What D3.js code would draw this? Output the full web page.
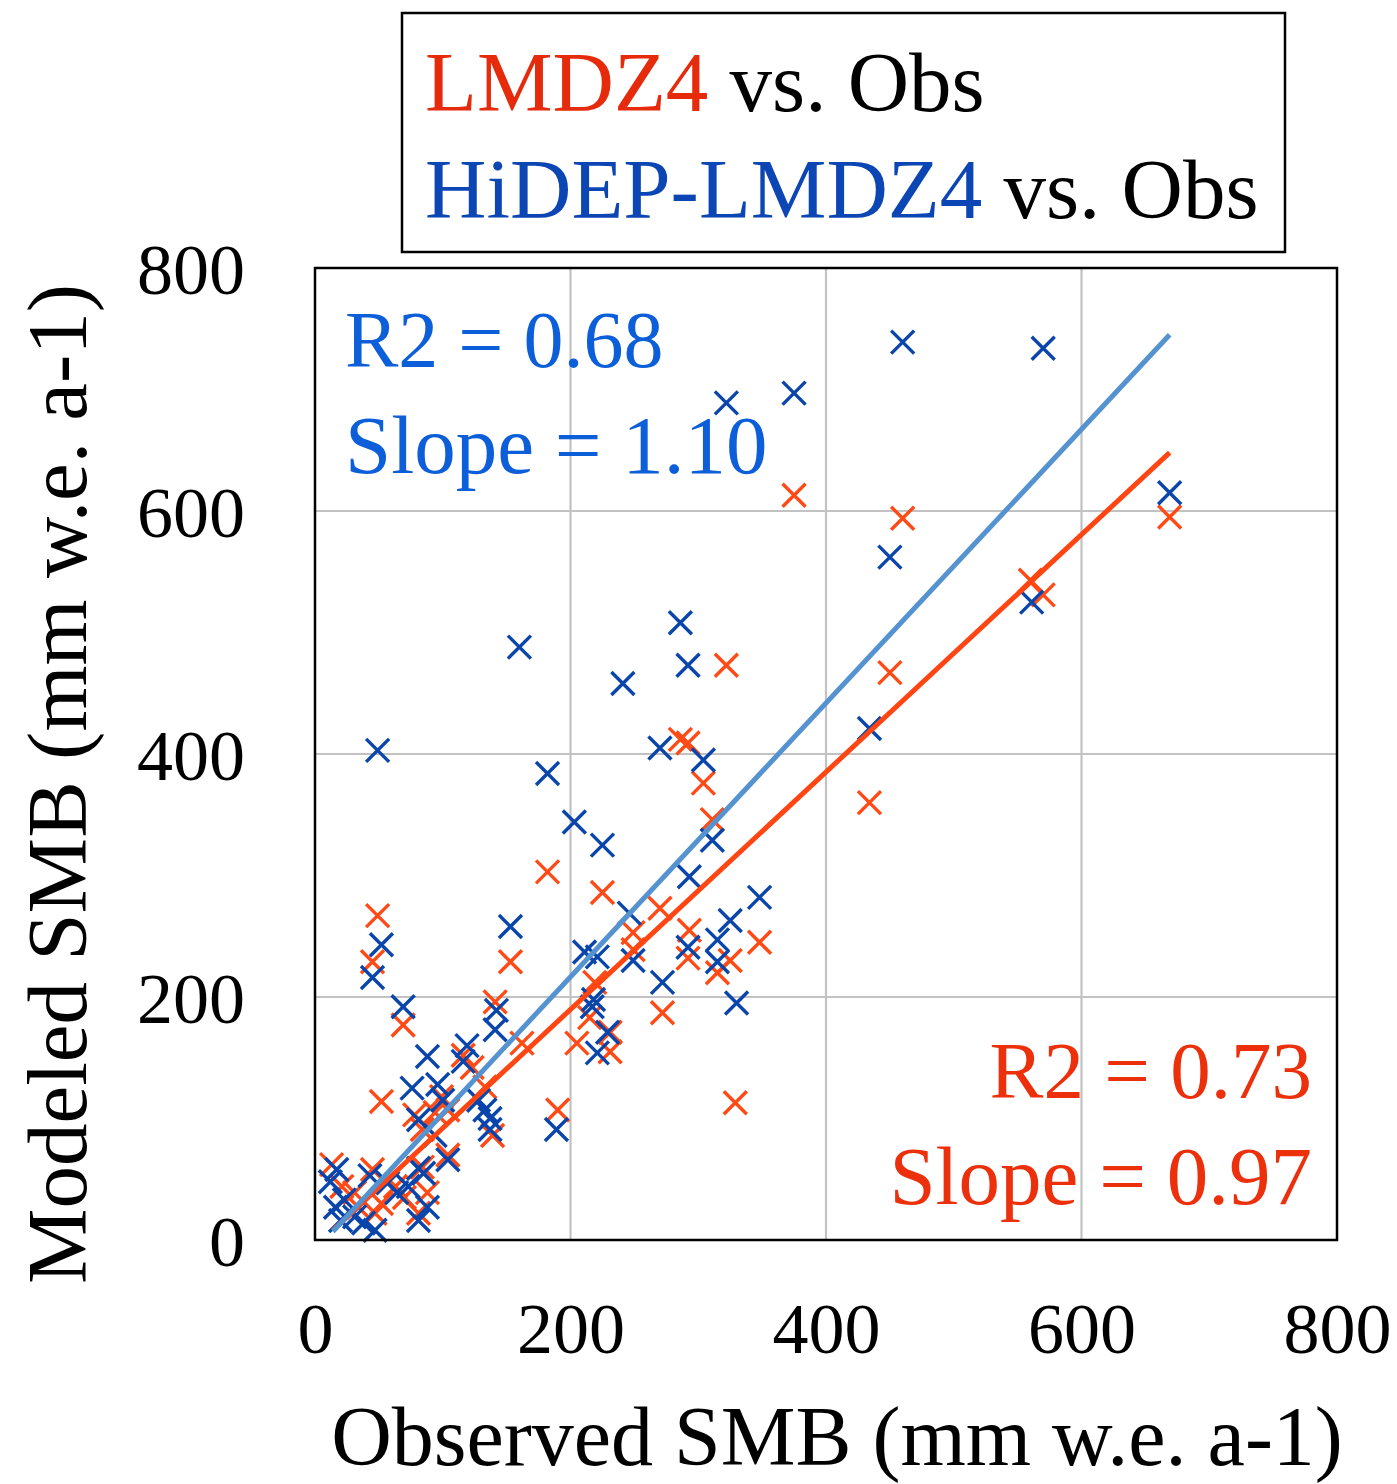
<!DOCTYPE html>
<html>
<head>
<meta charset="utf-8">
<script src="https://cdn.jsdelivr.net/npm/d3@7"></script>
<style>
  html, body { margin: 0; padding: 0; background: #fff; }
  svg { display: block; }
  text { font-family: "Liberation Serif", "DejaVu Serif", serif; }
</style>
</head>
<body>
<svg id="chart" width="1397" height="1484"></svg>
<script>
// ---- data (mm w.e. a-1) ----
const obsLMDZ4 = [375,460,669,322,450,434,560,570,286,292,304,311,225,270,293,348,249,249,292,315,325,219,215,231,205,231,272,329,190,182,153,141,162,49,45,69,52,116,123,99,78,84,94,104,133,139,104,13,21,45,31,34,47,63,84,70,88,81,52];
const modLMDZ4 = [613,594,595,473,467,360,543,531,412,409,376,346,286,273,255,245,253,239,232,220,230,212,183,171,162,155,187,113,107,303,229,196,162,267,229,177,114,152,142,118,103,91,105,107,126,86,70,62,44,58,39,27,22,44,60,35,39,22,30];
const obsHiDEP = [460,570,322,375,669,450,561,434,160,286,292,241,270,304,49,182,203,225,311,293,348,325,246,315,315,330,272,249,221,211,218,217,229,221,153,292,52,45,69,142,141,189,88,119,116,76,96,100,81,94,128,133,137,137,104,17,12,43,23,16,20,47,38,57,64,81,85,73,81,88,31];
const modHiDEP = [739,734,689,697,615,562,525,421,488,508,473,458,405,395,403,384,344,325,329,299,282,263,269,247,229,195,212,230,233,237,198,192,171,154,258,241,243,216,192,189,173,91,151,160,147,125,128,115,99,86,115,107,100,91,66,58,48,53,33,27,16,8,14,47,39,59,55,44,16,27,19];
// regression lines: x range and fitted y at both ends
const fitX = [14, 669];
const fitLMDZ4 = [8, 648];
const fitHiDEP = [7, 745];
const ticks = [0, 200, 400, 600, 800];
const gridTicks = [200, 400, 600];
const statsLMDZ4 = ["R2 = 0.73", "Slope = 0.97"];
const statsHiDEP = ["R2 = 0.68", "Slope = 1.10"];

const svg = d3.select("#chart");
const x = d3.scaleLinear().domain([0, 800]).range([315, 1337]);
const y = d3.scaleLinear().domain([0, 800]).range([1240, 268]);

const cOrange = "#ff4a16", cBlue = "#0a45ab";
const cOrangeLine = "#ff4512", cBlueLine = "#5593d0";

// grid
const grid = svg.append("g");
grid.selectAll(".gx").data(gridTicks).enter().append("line")
  .attr("x1", d => x(d)).attr("x2", d => x(d))
  .attr("y1", y(0)).attr("y2", y(800))
  .attr("stroke", "#c2c2c2").attr("stroke-width", 2.2);
grid.selectAll(".gy").data(gridTicks).enter().append("line")
  .attr("y1", d => y(d)).attr("y2", d => y(d))
  .attr("x1", x(0)).attr("x2", x(800))
  .attr("stroke", "#c2c2c2").attr("stroke-width", 2.2);

// markers
const cross = "M-11.5,-11.5L11.5,11.5M-11.5,11.5L11.5,-11.5";
function scatter(xs, ys, color) {
  svg.append("g").selectAll("path").data(xs.map((v, i) => [v, ys[i]])).enter()
    .append("path")
    .attr("d", cross)
    .attr("transform", d => `translate(${x(d[0])},${y(d[1])})`)
    .attr("fill", "none").attr("stroke", color).attr("stroke-width", 3.4);
}
scatter(obsLMDZ4, modLMDZ4, cOrange);
scatter(obsHiDEP, modHiDEP, cBlue);

// fit lines
const line = d3.line().x(d => x(d[0])).y(d => y(d[1]));
svg.append("path").datum(fitX.map((v, i) => [v, fitLMDZ4[i]]))
  .attr("d", line).attr("stroke", cOrangeLine).attr("stroke-width", 5).attr("fill", "none");
svg.append("path").datum(fitX.map((v, i) => [v, fitHiDEP[i]]))
  .attr("d", line).attr("stroke", cBlueLine).attr("stroke-width", 5).attr("fill", "none");

// frame
svg.append("rect").attr("x", x(0)).attr("y", y(800))
  .attr("width", x(800) - x(0)).attr("height", y(0) - y(800))
  .attr("fill", "none").attr("stroke", "#000").attr("stroke-width", 2.5);

// axes (tick labels only)
const xAxis = d3.axisBottom(x).tickValues(ticks).tickSize(0).tickPadding(0);
const gx = svg.append("g").attr("transform", `translate(0,${y(0)})`).call(xAxis);
gx.select(".domain").remove();
gx.selectAll("text").attr("dy", null).attr("y", 113)
  .attr("font-size", 72).attr("fill", "#000")
  .attr("font-family", '"Liberation Serif", serif');

const yAxis = d3.axisLeft(y).tickValues(ticks).tickSize(0).tickPadding(0);
const gy = svg.append("g").attr("transform", `translate(${x(0) - 70},0)`).call(yAxis);
gy.select(".domain").remove();
gy.selectAll("text").attr("dy", "0.35em").attr("x", 0)
  .attr("font-size", 72).attr("fill", "#000")
  .attr("font-family", '"Liberation Serif", serif');

// axis titles
svg.append("text").attr("x", 837).attr("y", 1465).attr("text-anchor", "middle")
  .attr("font-size", 84).attr("fill", "#000").text("Observed SMB (mm w.e. a-1)");
svg.append("text").attr("transform", "translate(86,784) rotate(-90)").attr("text-anchor", "middle")
  .attr("font-size", 85).attr("fill", "#000").text("Modeled SMB (mm w.e. a-1)");

// stats annotations
const aBlue = "#0d5ed9", aRed = "#ec300c";
svg.append("text").attr("x", 345).attr("y", 367).attr("font-size", 80).attr("fill", aBlue).text(statsHiDEP[0]);
svg.append("text").attr("x", 345).attr("y", 473).attr("font-size", 83).attr("fill", aBlue).text(statsHiDEP[1]);
svg.append("text").attr("x", 1312).attr("y", 1098).attr("text-anchor", "end").attr("font-size", 81).attr("fill", aRed).text(statsLMDZ4[0]);
svg.append("text").attr("x", 1312).attr("y", 1204).attr("text-anchor", "end").attr("font-size", 83).attr("fill", aRed).text(statsLMDZ4[1]);

// legend
svg.append("rect").attr("x", 402).attr("y", 13).attr("width", 883).attr("height", 239)
  .attr("fill", "#fff").attr("stroke", "#000").attr("stroke-width", 2.5);
const l1 = svg.append("text").attr("x", 425).attr("y", 111).attr("font-size", 85);
l1.append("tspan").attr("fill", "#e62b0c").text("LMDZ4");
l1.append("tspan").attr("fill", "#000").text(" vs. Obs");
const l2 = svg.append("text").attr("x", 425).attr("y", 218).attr("font-size", 85);
l2.append("tspan").attr("fill", "#0b46b4").text("HiDEP-LMDZ4");
l2.append("tspan").attr("fill", "#000").text(" vs. Obs");
</script>
</body>
</html>
